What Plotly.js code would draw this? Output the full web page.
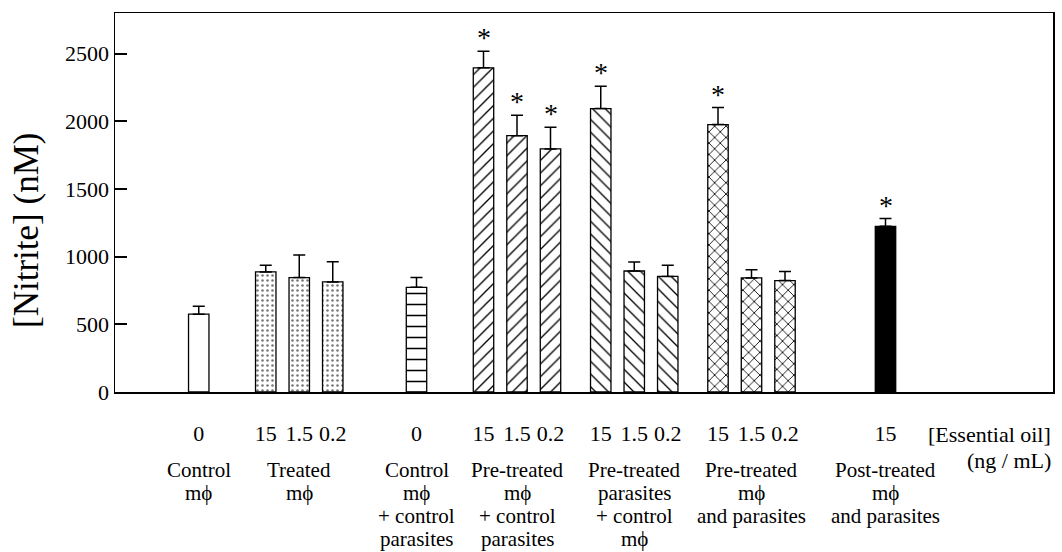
<!DOCTYPE html>
<html>
<head>
<meta charset="utf-8">
<script src="https://cdn.plot.ly/plotly-3.0.1.min.js"></script>
<style>html,body{margin:0;padding:0;background:#fff;}#chart{width:1062px;height:552px;}</style>
</head>
<body>
<div id="chart"></div>
<script>
// ---- data ----
const groupLabels = [
  ["Control", "mϕ"],
  ["Treated", "mϕ"],
  ["Control", "mϕ", "+ control", "parasites"],
  ["Pre-treated", "mϕ", "+ control", "parasites"],
  ["Pre-treated", "parasites", "+ control", "mϕ"],
  ["Pre-treated", "mϕ", "and parasites"],
  ["Post-treated", "mϕ", "and parasites"]
];
const doses = [["0"], ["15", "1.5", "0.2"], ["0"], ["15", "1.5", "0.2"], ["15", "1.5", "0.2"], ["15", "1.5", "0.2"], ["15"]];
const nitrite = [[575], [887, 845, 813], [773], [2395, 1894, 1796], [2094, 894, 854], [1976, 843, 823], [1224]];
const sem = [[58], [50, 168, 150], [72], [123, 150, 160], [165, 67, 82], [125, 61, 68], [57]];
const significant = [[false], [false, false, false], [false], [true, true, true], [true, false, false], [true, false, false], [true]];
const doseAxisLabel = ["[Essential oil]", "(ng / mL)"];
const yTitle = "[Nitrite] (nM)";
const yTicks = [0, 500, 1000, 1500, 2000, 2500];

// ---- layout helpers (positions, styles) ----
const groupStart = [0, 2, 6.5, 8.5, 12, 15.5, 20.5];
const styles = [
  {color: "#ffffff", pattern: {shape: ""}},
  {color: "#ffffff", pattern: {shape: ".", size: 5, solidity: 0.2, fgcolor: "#777777", bgcolor: "#ffffff"}},
  {color: "#ffffff", pattern: {shape: "-", size: 11, solidity: 0.14, fgcolor: "#000000", bgcolor: "#ffffff"}},
  {color: "#ffffff", pattern: {shape: "/", size: 9, solidity: 0.15, fgcolor: "#000000", bgcolor: "#ffffff"}},
  {color: "#ffffff", pattern: {shape: "\\", size: 9, solidity: 0.15, fgcolor: "#000000", bgcolor: "#ffffff"}},
  {color: "#ffffff", pattern: {shape: "x", size: 8, solidity: 0.2, fgcolor: "#000000", bgcolor: "#ffffff"}},
  {color: "#000000", pattern: {shape: ""}}
];
const FONT = "'Liberation Serif', 'Times New Roman', serif";

const traces = [];
const tickvals = [], ticktext = [];
const annotations = [];
nitrite.forEach((vals, g) => {
  const xs = vals.map((_, i) => groupStart[g] + i);
  xs.forEach((x, i) => { tickvals.push(x); ticktext.push(doses[g][i]); });
  traces.push({
    type: "bar",
    x: xs,
    y: vals,
    width: 0.61,
    marker: {color: styles[g].color, pattern: styles[g].pattern, line: {color: "#000", width: 1.3}},
    error_y: {type: "data", symmetric: false, array: sem[g], arrayminus: vals.map(() => 0),
              color: "#000", thickness: 1.5, width: 6},
    hoverinfo: "skip",
    showlegend: false
  });
  vals.forEach((v, i) => {
    if (significant[g][i]) {
      annotations.push({x: xs[i], y: v + sem[g][i], xref: "x", yref: "y", text: "*",
        showarrow: false, yanchor: "bottom", yshift: -4,
        font: {family: FONT, size: 28, color: "#000"}});
    }
  });
  const cx = xs.reduce((a, b) => a + b, 0) / xs.length;
  groupLabels[g].forEach((line, k) => {
    annotations.push({x: cx, y: 0, xref: "x", yref: "paper", text: line, showarrow: false,
      yanchor: "middle", yshift: -78 - 23 * k,
      font: {family: FONT, size: 21, color: "#000"}});
  });
});
doseAxisLabel.forEach((t, k) => {
  annotations.push({x: 1, y: 0, xref: "paper", yref: "paper", text: t, showarrow: false,
    xanchor: "right", yanchor: "middle", yshift: -42 - 26 * k,
    font: {family: FONT, size: 22, color: "#000"}});
});
// y-axis title as rotated annotation
annotations.push({x: 0, y: 0.425, xref: "paper", yref: "paper", text: yTitle, showarrow: false,
  textangle: -90, xanchor: "center", yanchor: "middle", xshift: -88,
  font: {family: FONT, size: 35, color: "#000"}});

const layout = {
  width: 1062, height: 552,
  margin: {l: 115, r: 9, t: 13, b: 160},
  paper_bgcolor: "#fff", plot_bgcolor: "#fff",
  font: {family: FONT, color: "#000"},
  showlegend: false,
  barmode: "overlay",
  xaxis: {range: [-2.5, 25.5], tickvals: tickvals, ticktext: ticktext, ticks: "",
          ticklabelstandoff: 21, showgrid: false, zeroline: false,
          showline: true, linecolor: "#000", linewidth: 1.5, mirror: true,
          tickfont: {family: FONT, size: 22, color: "#000"}},
  yaxis: {range: [0, 2800], tickvals: yTicks,
          ticks: "inside", ticklen: 12, tickwidth: 2, tickcolor: "#000",
          showgrid: false, zeroline: false,
          showline: true, linecolor: "#000", linewidth: 1.5, mirror: true,
          tickfont: {family: FONT, size: 22, color: "#000"}},
  annotations: annotations
};
Plotly.newPlot("chart", traces, layout, {staticPlot: true});
</script>
</body>
</html>
